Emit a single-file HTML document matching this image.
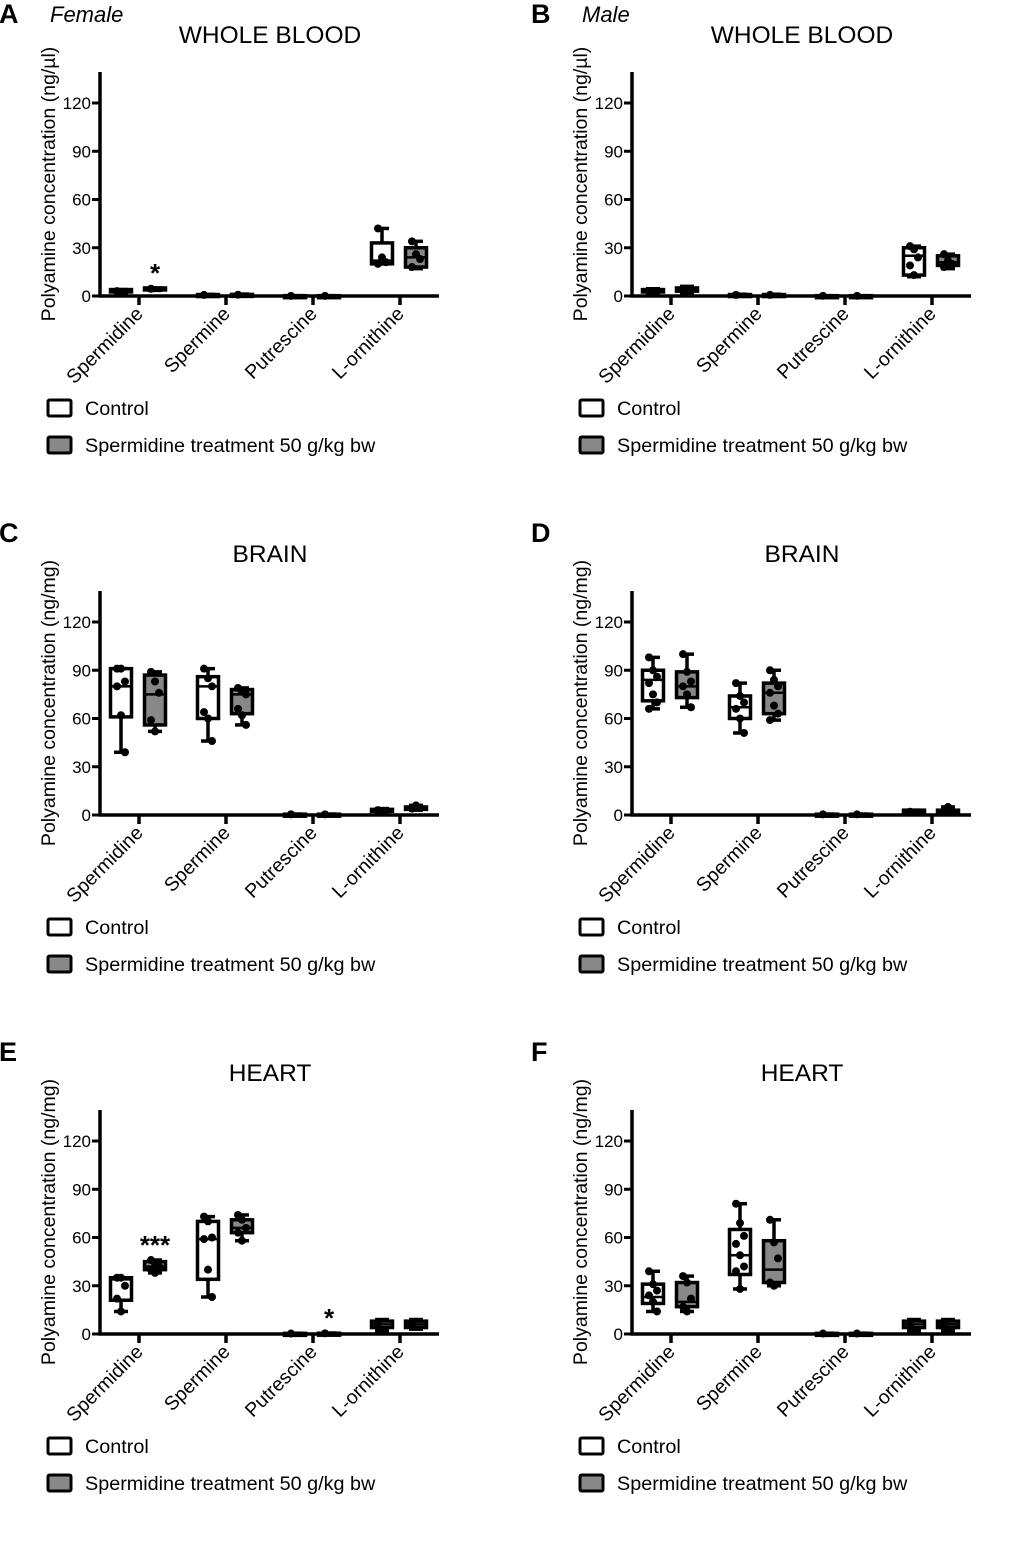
<!DOCTYPE html>
<html><head><meta charset="utf-8">
<style>
html,body{margin:0;padding:0;background:#fff;}
svg{display:block;font-family:"Liberation Sans",Arial,sans-serif;}
</style></head>
<body>
<svg id="fig" width="1020" height="1548" viewBox="0 0 1020 1548" xmlns="http://www.w3.org/2000/svg"></svg>
<script>
const categories = ["Spermidine","Spermine","Putrescine","L-ornithine"];
const yTicks = [0,30,60,90,120];
const panelLetters = ["A","B","C","D","E","F"];
const panelTitles = ["WHOLE BLOOD","WHOLE BLOOD","BRAIN","BRAIN","HEART","HEART"];
const yTitles = ["Polyamine concentration (ng/µl)","Polyamine concentration (ng/µl)","Polyamine concentration (ng/mg)","Polyamine concentration (ng/mg)","Polyamine concentration (ng/mg)","Polyamine concentration (ng/mg)"];
// box stats [min,q1,median,q3,max] per category, control then treatment
const controlA = [[2,2.5,3,4,4],[0.4,0.5,0.7,0.9,1],[0,0,0.1,0.2,0.2],[20,20,22,33,42]];
const treatA   = [[3.5,4,4.5,5,5],[0.4,0.6,0.8,1,1.2],[0,0,0.1,0.2,0.2],[17,18,24,30,34]];
const controlB = [[2,2.5,3,4,4.5],[0.3,0.5,0.7,0.9,1.1],[0,0,0.1,0.2,0.2],[12,13,25,30,31]];
const treatB   = [[2,3,4,5,6],[0.3,0.5,0.7,0.9,1.1],[0,0,0.1,0.2,0.2],[17,19,21,25,26]];
const controlC = [[39,61,80,91,91],[46,60,80,86,91],[0.2,0.3,0.4,0.5,0.6],[2,2.5,3,3.5,4]];
const treatC   = [[52,56,75,87,89],[56,63,75,78,79],[0.2,0.3,0.4,0.5,0.6],[3,3.5,4,5,6]];
const controlD = [[66,71,84,90,98],[51,60,67,74,82],[0.2,0.3,0.4,0.5,0.6],[1,1.5,2,3,3]];
const treatD   = [[67,73,80,89,100],[59,63,76,82,90],[0.2,0.3,0.4,0.5,0.6],[1,1.5,2,3,5]];
const controlE = [[14,21,34,35,35],[23,34,59,70,73],[0.2,0.3,0.3,0.4,0.5],[2,4,6,8,9]];
const treatE   = [[38,40,42,45,46],[58,63,66,71,74],[0.3,0.4,0.4,0.5,0.6],[3,4,6,8,9]];
const controlF = [[14,19,23,31,39],[28,37,49,65,81],[0.2,0.3,0.3,0.4,0.5],[2,4,6,8,9]];
const treatF   = [[14,17,20,32,36],[30,32,40,58,71],[0.2,0.3,0.3,0.4,0.5],[2,4,6,8,9]];
// individual points per category
const ptsControlC = [[91,91,83,80,62,39],[91,85,80,64,60,46],[0.4],[3]];
const ptsTreatC   = [[89,83,76,59,52],[79,77,75,66,62,56],[0.4],[4,6]];
const ptsControlD = [[98,90,86,82,75,70,66],[82,74,70,66,60,51],[0.4],[2]];
const ptsTreatD   = [[100,89,83,80,75,67],[90,84,80,76,68,63,59],[0.4],[2,5]];
const ptsControlE = [[35,35,30,22,14],[73,70,60,59,40,23],[0.3],[6]];
const ptsTreatE   = [[46,44,42,40,38],[74,71,66,63,58],[0.4],[6]];
const ptsControlF = [[39,31,27,24,20,14],[81,69,61,56,49,42,39,28],[0.3],[6]];
const ptsTreatF   = [[36,32,22,17,14],[71,57,47,32,30],[0.3],[6]];
const ptsControlA = [[3],[0.7],[0.1],[42,24,21,20]];
const ptsTreatA   = [[4.5],[0.8],[0.1],[34,26,23,18]];
const ptsControlB = [[3],[0.7],[0.1],[31,29,24,19,13]];
const ptsTreatB   = [[4],[0.7],[0.1],[26,22,20,18]];
const controls = [controlA,controlB,controlC,controlD,controlE,controlF];
const treats = [treatA,treatB,treatC,treatD,treatE,treatF];
const ptsC = [ptsControlA,ptsControlB,ptsControlC,ptsControlD,ptsControlE,ptsControlF];
const ptsT = [ptsTreatA,ptsTreatB,ptsTreatC,ptsTreatD,ptsTreatE,ptsTreatF];
// significance marks: [panel, category index, group (0 control/1 treat), label]
const sigMarks = [[0,0,1,"*"],[4,0,1,"***"],[4,2,1,"*"]];

const NS="http://www.w3.org/2000/svg";
const svg=document.getElementById('fig');
function mk(tag,attrs,parent){const e=document.createElementNS(NS,tag);for(const k in attrs)e.setAttribute(k,attrs[k]);(parent||svg).appendChild(e);return e;}

for(let p=0;p<6;p++){
  const col=p%2,row=Math.floor(p/2);
  const ox=col*532, oy=row*519;
  const g=mk('g',{});
  
  
  const ax=100+ox, y0=296+oy, y120=103+oy, xEnd=439+ox, top=72+oy;
  const yS=v=>y0-(v/120)*(y0-y120);
  const xT=i=>139+ox+i*87;
  let t=mk('text',{x:ox-1,y:oy+23,'font-size':27,'font-weight':'bold'},g);t.textContent=panelLetters[p];
  
  if(row===0){t=mk('text',{x:ox+50,y:oy+22,'font-size':22,'font-style':'italic'},g);t.textContent=col?"Male":"Female";
    }
  t=mk('text',{x:ox+270,y:oy+43,'font-size':24.5,'text-anchor':'middle'},g);t.textContent=panelTitles[p];
  
  t=mk('text',{x:0,y:0,'font-size':19.5,'text-anchor':'middle',transform:`translate(${ox+55},${oy+184}) rotate(-90)`},g);t.textContent=yTitles[p];
  
  let l=mk('line',{x1:ax,y1:top,x2:ax,y2:y0+1.5,stroke:'#000','stroke-width':3.5},g);
  
  l=mk('line',{x1:ax-1.5,y1:y0,x2:xEnd,y2:y0,stroke:'#000','stroke-width':3.5},g);
  
  yTicks.forEach(v=>{
    mk('line',{x1:ax-8,y1:yS(v),x2:ax,y2:yS(v),stroke:'#000','stroke-width':3},g);
    const tt=mk('text',{x:ax-9,y:yS(v)+6,'font-size':17,'text-anchor':'end'},g);tt.textContent=v;
    
  });
  categories.forEach((c,i)=>{
    mk('line',{x1:xT(i),y1:y0,x2:xT(i),y2:y0+9,stroke:'#000','stroke-width':3.5},g);
    const ct=mk('text',{x:0,y:0,'font-size':19.5,'text-anchor':'end',transform:`translate(${xT(i)+5},${y0+19}) rotate(-45)`},g);ct.textContent=c;
    
    [[controls[p][i],ptsC[p][i],-18,'#fff'],[treats[p][i],ptsT[p][i],16,'#888']].forEach(([s,pts,off,fill],gi)=>{
      const cx=xT(i)+off, w=21;
      const bg=mk('g',{},g);
      
      
      mk('line',{x1:cx,y1:yS(s[4]),x2:cx,y2:yS(s[0]),stroke:'#000','stroke-width':3.5},bg);
      mk('line',{x1:cx-7,y1:yS(s[4]),x2:cx+7,y2:yS(s[4]),stroke:'#000','stroke-width':3.5},bg);
      mk('line',{x1:cx-7,y1:yS(s[0]),x2:cx+7,y2:yS(s[0]),stroke:'#000','stroke-width':3.5},bg);
      const h=Math.max(yS(s[1])-yS(s[3]),2);
      mk('rect',{x:cx-w/2,y:yS(s[3]),width:w,height:h,fill:fill,stroke:'#000','stroke-width':3.5},bg);
      mk('line',{x1:cx-w/2,y1:yS(s[2]),x2:cx+w/2,y2:yS(s[2]),stroke:'#000','stroke-width':2.5},bg);
      pts.forEach((v,k)=>{mk('circle',{cx:cx+((k%3)-1)*4,cy:yS(v),r:4,fill:'#000'},bg);});
    });
  });
  sigMarks.filter(m=>m[0]===p).forEach(m=>{
    const s=(m[2]?treats:controls)[p][m[1]];
    const st=mk('text',{x:xT(m[1])+(m[2]?16:-18),y:yS(s[4])-6,'font-size':26,'font-weight':'bold','text-anchor':'middle'},g);st.textContent=m[3];
    
  });
  [["Control","#fff",400],["Spermidine treatment 50 g/kg bw","#888",437]].forEach(([lab,fill,ly],k)=>{
    const lg=mk('g',{},g);
    
    
    mk('rect',{x:ox+48,y:oy+ly,width:23,height:16,fill:fill,stroke:'#000','stroke-width':3,rx:1.5},lg);
    const lt=mk('text',{x:ox+85,y:oy+ly+15,'font-size':19.8},lg);lt.textContent=lab;
  });
}
</script>
</body></html>
